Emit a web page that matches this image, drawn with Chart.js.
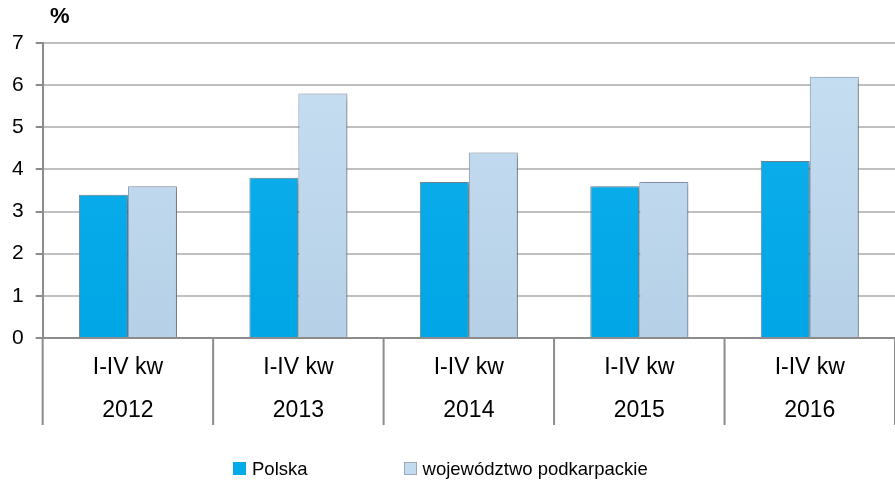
<!DOCTYPE html>
<html>
<head>
<meta charset="utf-8">
<script src="https://cdn.jsdelivr.net/npm/chart.js@4"></script>
<style>
    body { margin: 0; background: #fff; }
    #wrap { position: relative; width: 895px; height: 482px; }
    #legend { position: absolute; left: 233px; top: 458px; font: 18.5px "Liberation Sans", Arial, sans-serif; color: #000; white-space: nowrap; }
    #legend span.item { display: inline-block; margin-right: 96px; }
    #legend span.box { display: inline-block; width: 13px; height: 13px; margin-right: 6px; vertical-align: 0px; box-sizing: border-box; }
</style>
</head>
<body>
<div id="wrap">
    <canvas id="chart" width="895" height="482"></canvas>
    <div id="legend"></div>
</div>
<script>
var periods = ['I-IV kw', 'I-IV kw', 'I-IV kw', 'I-IV kw', 'I-IV kw'];
var years = ['2012', '2013', '2014', '2015', '2016'];
var polska = [3.4, 3.8, 3.7, 3.6, 4.2];
var podkarpackie = [3.6, 5.8, 4.4, 3.7, 6.2];
var seriesNames = ['Polska', 'województwo podkarpackie'];

var labels = periods.map(function (p, i) {
    return [p, years[i]];
});

function gradient(ctx, chartArea, top, bottom) {
    if (!chartArea) {
        return bottom;
    }
    var g = ctx.createLinearGradient(0, chartArea.top, 0, chartArea.bottom);
    g.addColorStop(0, top);
    g.addColorStop(1, bottom);
    return g;
}

// soft shadow behind the bars, like the office chart
var barShadow = {
    id: 'barShadow',
    beforeDatasetsDraw: function (chart) {
        var ctx = chart.ctx;
        ctx.save();
        ctx.shadowColor = 'rgba(0, 0, 0, 0.35)';
        ctx.shadowBlur = 5;
        ctx.shadowOffsetX = 3;
        ctx.shadowOffsetY = 2;
    },
    afterDatasetsDraw: function (chart) {
        chart.ctx.restore();
    }
};

// long separators between the categories, running through the label rows
var separators = {
    id: 'separators',
    afterDraw: function (chart) {
        var x = chart.scales.x;
        var ctx = chart.ctx;
        var half = (x.getPixelForTick(1) - x.getPixelForTick(0)) / 2;
        ctx.save();
        ctx.strokeStyle = '#8c8c8c';
        ctx.lineWidth = 2;
        ctx.beginPath();
        for (var i = 0; i <= labels.length; i++) {
            var px = x.getPixelForTick(0) - half + i * half * 2;
            ctx.moveTo(px, chart.chartArea.bottom);
            ctx.lineTo(px, chart.chartArea.bottom + 87);
        }
        ctx.stroke();
        ctx.restore();
    }
};

// the "%" unit label above the y axis
var unitLabel = {
    id: 'unitLabel',
    afterDraw: function (chart) {
        var ctx = chart.ctx;
        ctx.save();
        ctx.font = 'bold 22px "Liberation Sans", Arial, sans-serif';
        ctx.fillStyle = '#000';
        ctx.textAlign = 'left';
        ctx.textBaseline = 'middle';
        ctx.fillText('%', 50, 17);
        ctx.restore();
    }
};

var ctx = document.getElementById('chart').getContext('2d');
var chart = new Chart(ctx, {
    type: 'bar',
    data: {
        labels: labels,
        datasets: [{
            label: seriesNames[0],
            data: polska,
            backgroundColor: function (c) {
                return gradient(c.chart.ctx, c.chart.chartArea, '#12b0ec', '#00a6e6');
            },
            borderColor: '#6f8596',
            borderWidth: 1
        }, {
            label: seriesNames[1],
            data: podkarpackie,
            backgroundColor: function (c) {
                return gradient(c.chart.ctx, c.chart.chartArea, '#c8dff2', '#b5d0e7');
            },
            borderColor: '#8797a7',
            borderWidth: 1
        }]
    },
    options: {
        responsive: false,
        animation: false,
        layout: {
            padding: { left: 0, right: -6, top: 43, bottom: 42 }
        },
        datasets: {
            bar: { categoryPercentage: 0.575, barPercentage: 1 }
        },
        plugins: {
            legend: { display: false },
            tooltip: { enabled: false }
        },
        scales: {
            x: {
                grid: {
                    offset: true,
                    display: false,
                    drawTicks: false
                },
                border: { color: '#8c8c8c', width: 2 },
                ticks: {
                    padding: 8,
                    color: '#000',
                    maxRotation: 0,
                    autoSkip: false,
                    font: { family: '"Liberation Sans", Arial, sans-serif', size: 23, lineHeight: 1.87 }
                }
            },
            y: {
                min: 0,
                max: 7,
                grid: {
                    color: '#c0c0c0',
                    lineWidth: 2,
                    tickLength: 7,
                    tickColor: '#8c8c8c',
                    tickWidth: 2
                },
                border: { color: '#8c8c8c', width: 2 },
                ticks: {
                    stepSize: 1,
                    padding: 12,
                    color: '#000',
                    font: { family: '"Liberation Sans", Arial, sans-serif', size: 21 }
                }
            }
        }
    },
    plugins: [barShadow, separators, unitLabel]
});

// legend below the chart, built from the datasets
var legend = document.getElementById('legend');
var boxStyles = [
    'background:#05aae9;',
    'background:#c3dbef;border:1px solid #9aaab8;'
];
seriesNames.forEach(function (name, i) {
    legend.innerHTML += "<span class='item'><span class='box' style='" + boxStyles[i] + "'></span>" + name + "</span>";
});
</script>
</body>
</html>
